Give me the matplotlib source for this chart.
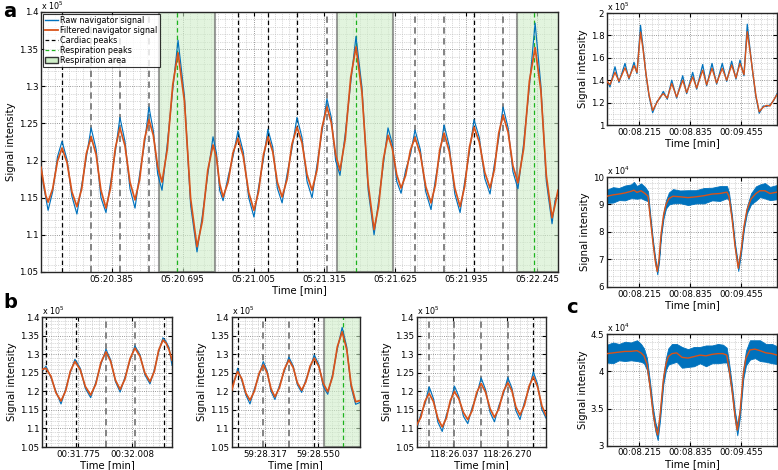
import numpy as np
import matplotlib
matplotlib.use('Agg')
import matplotlib.pyplot as plt
from matplotlib.ticker import AutoMinorLocator
from matplotlib.lines import Line2D
from matplotlib.patches import Patch

plt.rcParams['font.family'] = ['DejaVu Sans']

RAW = '#0072BD'
FILT = '#D95319'
CARD_DARK = '#000000'
CARD_LIGHT = '#7a7a7a'
RESP = '#1db31d'
AREA_FACE = '#cfeec8'
AREA_EDGE = '#5a5a5a'

# ---- panel a (seconds after 05:20.000, signal x 1e5) ----
a_start = 320.0
a_time = [0.076, 0.086, 0.097, 0.107, 0.127, 0.148, 0.168, 0.190, 0.211, 0.233,
          0.254, 0.274, 0.295, 0.317, 0.338, 0.360, 0.380, 0.401, 0.421, 0.443,
          0.465, 0.487, 0.507, 0.528, 0.548, 0.567, 0.586, 0.605, 0.628, 0.652,
          0.675, 0.703, 0.730, 0.758, 0.781, 0.805, 0.828, 0.843, 0.857, 0.872,
          0.894, 0.915, 0.937, 0.960, 0.984, 1.007, 1.027, 1.048, 1.068, 1.089,
          1.109, 1.130, 1.152, 1.173, 1.195, 1.217, 1.239, 1.261, 1.283, 1.304,
          1.326, 1.345, 1.364, 1.383, 1.406, 1.430, 1.453, 1.479, 1.506, 1.532,
          1.552, 1.573, 1.593, 1.612, 1.631, 1.650, 1.670, 1.691, 1.711, 1.734,
          1.758, 1.781, 1.800, 1.819, 1.838, 1.861, 1.885, 1.908, 1.928, 1.949,
          1.969, 1.992, 2.016, 2.039, 2.058, 2.077, 2.096, 2.118, 2.139, 2.161,
          2.186, 2.211, 2.236, 2.261, 2.285, 2.310, 2.323, 2.336]
a_filtered = [1.191, 1.172, 1.153, 1.144, 1.162, 1.199, 1.217, 1.197, 1.158, 1.138,
              1.162, 1.209, 1.232, 1.208, 1.160, 1.136, 1.163, 1.217, 1.244, 1.220,
              1.171, 1.147, 1.174, 1.228, 1.255, 1.234, 1.192, 1.171, 1.215, 1.302,
              1.345, 1.280, 1.149, 1.084, 1.118, 1.187, 1.221, 1.204, 1.169, 1.151,
              1.171, 1.210, 1.230, 1.206, 1.157, 1.133, 1.158, 1.207, 1.232, 1.212,
              1.171, 1.151, 1.175, 1.222, 1.245, 1.224, 1.181, 1.160, 1.188, 1.244,
              1.272, 1.251, 1.208, 1.187, 1.229, 1.312, 1.353, 1.292, 1.169, 1.107,
              1.139, 1.202, 1.234, 1.216, 1.181, 1.163, 1.180, 1.214, 1.231, 1.209,
              1.165, 1.143, 1.167, 1.214, 1.237, 1.212, 1.163, 1.138, 1.165, 1.218,
              1.245, 1.225, 1.184, 1.163, 1.188, 1.237, 1.261, 1.238, 1.193, 1.170,
              1.216, 1.307, 1.352, 1.295, 1.180, 1.123, 1.140, 1.160]
a_raw = [1.196, 1.168, 1.150, 1.133, 1.158, 1.205, 1.226, 1.201, 1.152, 1.128,
         1.167, 1.204, 1.244, 1.215, 1.150, 1.130, 1.170, 1.212, 1.258, 1.226,
         1.162, 1.136, 1.181, 1.222, 1.272, 1.240, 1.182, 1.160, 1.222, 1.296,
         1.362, 1.287, 1.140, 1.077, 1.125, 1.181, 1.232, 1.210, 1.160, 1.146,
         1.178, 1.205, 1.240, 1.212, 1.150, 1.124, 1.164, 1.201, 1.242, 1.218,
         1.163, 1.143, 1.182, 1.216, 1.258, 1.231, 1.172, 1.150, 1.195, 1.238,
         1.283, 1.258, 1.200, 1.180, 1.236, 1.305, 1.367, 1.299, 1.161, 1.100,
         1.146, 1.196, 1.244, 1.222, 1.172, 1.156, 1.187, 1.208, 1.241, 1.215,
         1.158, 1.134, 1.174, 1.208, 1.248, 1.219, 1.155, 1.130, 1.171, 1.212,
         1.255, 1.231, 1.176, 1.155, 1.195, 1.230, 1.272, 1.244, 1.185, 1.162,
         1.223, 1.300, 1.385, 1.302, 1.172, 1.115, 1.146, 1.156]
a_cardiac_dark = [0.168, 0.937, 1.068, 1.195, 1.969]
a_cardiac_light = [0.295, 0.421, 0.548, 1.326, 1.711, 1.838, 2.096]
a_resp_peaks = [0.671, 1.453, 2.231]
a_resp_areas = [(0.590, 0.837), (1.370, 1.615), (2.157, 2.400)]
a_ticks = [0.385, 0.695, 1.005, 1.315, 1.625, 1.935, 2.245]

# ---- panel b, left (seconds after 00:31.618) ----
b1_start = 31.618
b1_time = [0.000, 0.017, 0.039, 0.060, 0.082, 0.102, 0.122, 0.142, 0.165, 0.187,
           0.210, 0.232, 0.254, 0.276, 0.296, 0.317, 0.337, 0.358, 0.380, 0.401,
           0.423, 0.444, 0.466, 0.485, 0.503, 0.522, 0.535, 0.548, 0.561]
b1_filtered = [1.259, 1.262, 1.240, 1.196, 1.174, 1.201, 1.254, 1.280, 1.258, 1.213,
               1.190, 1.219, 1.277, 1.306, 1.281, 1.230, 1.205, 1.233, 1.288, 1.316,
               1.294, 1.249, 1.226, 1.254, 1.310, 1.338, 1.330, 1.312, 1.284]
b1_raw = [1.252, 1.268, 1.236, 1.200, 1.166, 1.206, 1.250, 1.286, 1.262, 1.208,
          1.183, 1.224, 1.272, 1.313, 1.285, 1.226, 1.198, 1.238, 1.284, 1.322,
          1.298, 1.244, 1.220, 1.259, 1.305, 1.344, 1.334, 1.318, 1.270]
b1_cardiac_dark = [0.017, 0.147, 0.526]
b1_cardiac_light = [0.276, 0.401]
b1_ticks = [31.775, 32.008]

# ---- panel b, middle (seconds after 59:28.1715) ----
b2_start = 59 * 60 + 28.1715
b2_time = [0.000, 0.009, 0.017, 0.026, 0.044, 0.062, 0.080, 0.099, 0.119, 0.138,
           0.155, 0.172, 0.189, 0.209, 0.230, 0.250, 0.269, 0.287, 0.306, 0.324,
           0.343, 0.361, 0.381, 0.400, 0.420, 0.441, 0.462, 0.483, 0.503, 0.522,
           0.542, 0.561]
b2_filtered = [1.203, 1.222, 1.240, 1.253, 1.234, 1.195, 1.176, 1.200, 1.247, 1.271,
               1.250, 1.207, 1.185, 1.210, 1.259, 1.284, 1.264, 1.223, 1.203, 1.225,
               1.268, 1.289, 1.267, 1.222, 1.199, 1.239, 1.320, 1.360, 1.313, 1.219,
               1.172, 1.175]
b2_raw = [1.198, 1.228, 1.236, 1.262, 1.230, 1.190, 1.166, 1.206, 1.242, 1.280,
          1.255, 1.200, 1.178, 1.216, 1.254, 1.292, 1.268, 1.218, 1.197, 1.230,
          1.262, 1.298, 1.272, 1.214, 1.192, 1.245, 1.314, 1.372, 1.320, 1.212,
          1.165, 1.170]
b2_cardiac_dark = [0.026, 0.361]
b2_cardiac_light = [0.138, 0.250]
b2_resp_peaks = [0.487]
b2_resp_areas = [(0.405, 0.600)]
b2_ticks = [59 * 60 + 28.317, 59 * 60 + 28.550]

# ---- panel b, right (seconds after 118:25.878) ----
b3_start = 118 * 60 + 25.878
b3_time = [0.000, 0.018, 0.036, 0.054, 0.073, 0.092, 0.111, 0.129, 0.146, 0.164,
           0.183, 0.203, 0.222, 0.241, 0.261, 0.280, 0.299, 0.319, 0.338, 0.357,
           0.377, 0.396, 0.414, 0.431, 0.449, 0.468, 0.488, 0.507, 0.525, 0.544,
           0.562]
b3_filtered = [1.109, 1.130, 1.173, 1.194, 1.172, 1.127, 1.104, 1.128, 1.175, 1.199,
               1.180, 1.143, 1.124, 1.148, 1.197, 1.221, 1.198, 1.153, 1.130, 1.153,
               1.200, 1.223, 1.201, 1.158, 1.136, 1.162, 1.213, 1.239, 1.213, 1.161,
               1.135]
b3_raw = [1.098, 1.138, 1.166, 1.212, 1.180, 1.117, 1.092, 1.136, 1.168, 1.214,
          1.186, 1.133, 1.113, 1.156, 1.190, 1.236, 1.205, 1.143, 1.118, 1.161,
          1.193, 1.237, 1.208, 1.148, 1.124, 1.170, 1.206, 1.252, 1.220, 1.151,
          1.128]
b3_cardiac_dark = [0.507]
b3_cardiac_light = [0.054, 0.164, 0.280, 0.396]
b3_ticks = [118 * 60 + 26.037, 118 * 60 + 26.270]

# ---- right column (seconds after 00:07.827) ----
r_start = 7.827
r_ticks = [8.215, 8.835, 9.455]

# top right, signal x 1e5
rt_time = [0.000, 0.036, 0.097, 0.145, 0.218, 0.266, 0.327, 0.363, 0.406, 0.436,
           0.472, 0.509, 0.553, 0.605, 0.642, 0.682, 0.730, 0.784, 0.844, 0.917,
           0.965, 1.038, 1.086, 1.159, 1.207, 1.272, 1.328, 1.396, 1.450, 1.510,
           1.562, 1.611, 1.659, 1.699, 1.732, 1.768, 1.804, 1.844, 1.893, 1.932,
           1.974, 2.016, 2.059]
rt_filtered = [1.39, 1.36, 1.47, 1.39, 1.51, 1.42, 1.53, 1.47, 1.83, 1.68,
               1.46, 1.27, 1.13, 1.20, 1.25, 1.28, 1.24, 1.37, 1.25, 1.40,
               1.29, 1.43, 1.33, 1.49, 1.36, 1.506, 1.375, 1.506, 1.40, 1.536,
               1.42, 1.55, 1.45, 1.833, 1.66, 1.46, 1.26, 1.119, 1.16, 1.175,
               1.17, 1.22, 1.27]
rt_raw = [1.40, 1.34, 1.52, 1.38, 1.55, 1.41, 1.56, 1.46, 1.89, 1.70,
          1.45, 1.26, 1.11, 1.21, 1.24, 1.30, 1.23, 1.40, 1.24, 1.44,
          1.28, 1.47, 1.32, 1.54, 1.35, 1.55, 1.365, 1.55, 1.39, 1.57,
          1.41, 1.58, 1.44, 1.90, 1.68, 1.45, 1.25, 1.105, 1.17, 1.165,
          1.18, 1.215, 1.28]

# middle right, signal x 1e4, raw shown as its spread around the filtered curve
rm_time = [0.000, 0.073, 0.145, 0.218, 0.291, 0.327, 0.363, 0.412, 0.460, 0.497,
           0.521, 0.557, 0.587, 0.609, 0.630, 0.654, 0.684, 0.714, 0.751, 0.799,
           0.884, 0.981, 1.078, 1.175, 1.272, 1.368, 1.453, 1.477, 1.514, 1.550,
           1.590, 1.623, 1.659, 1.695, 1.744, 1.804, 1.853, 1.913, 1.974, 2.059]
rm_filtered = [9.30, 9.35, 9.38, 9.42, 9.48, 9.52, 9.44, 9.50, 9.40, 9.30,
               8.60, 7.60, 6.90, 6.56, 7.00, 7.90, 8.60, 9.00, 9.22, 9.30,
               9.28, 9.25, 9.28, 9.32, 9.38, 9.40, 9.45, 9.30, 8.50, 7.50,
               6.68, 7.30, 8.20, 8.80, 9.20, 9.40, 9.50, 9.50, 9.40, 9.45]
rm_spread = [0.24, 0.28, 0.22, 0.27, 0.25, 0.30, 0.23, 0.27, 0.24, 0.18,
             0.12, 0.10, 0.10, 0.10, 0.10, 0.10, 0.12, 0.15, 0.22, 0.26,
             0.23, 0.27, 0.24, 0.28, 0.23, 0.27, 0.22, 0.15, 0.10, 0.10,
             0.10, 0.10, 0.10, 0.12, 0.20, 0.26, 0.23, 0.28, 0.24, 0.26]

# panel c, signal x 1e4
c_time = [0.000, 0.073, 0.145, 0.218, 0.291, 0.363, 0.412, 0.448, 0.484, 0.521,
          0.557, 0.587, 0.614, 0.642, 0.682, 0.714, 0.742, 0.787, 0.844, 0.908,
          0.981, 1.054, 1.126, 1.199, 1.272, 1.344, 1.405, 1.450, 1.477, 1.514,
          1.550, 1.578, 1.611, 1.651, 1.683, 1.732, 1.792, 1.853, 1.925, 1.998,
          2.059]
c_filtered = [4.24, 4.25, 4.26, 4.27, 4.27, 4.28, 4.25, 4.21, 4.10, 3.80,
              3.45, 3.25, 3.145, 3.40, 3.885, 4.10, 4.20, 4.24, 4.25, 4.19,
              4.18, 4.20, 4.22, 4.21, 4.23, 4.24, 4.24, 4.22, 4.05, 3.75,
              3.40, 3.21, 3.45, 3.97, 4.18, 4.29, 4.30, 4.28, 4.25, 4.24,
              4.22]
c_spread = [0.12, 0.14, 0.11, 0.13, 0.12, 0.14, 0.12, 0.10, 0.08, 0.06,
            0.06, 0.06, 0.07, 0.06, 0.06, 0.08, 0.11, 0.13, 0.12, 0.14,
            0.12, 0.13, 0.11, 0.14, 0.12, 0.13, 0.12, 0.10, 0.08, 0.06,
            0.06, 0.07, 0.06, 0.07, 0.10, 0.13, 0.12, 0.14, 0.12, 0.13,
            0.12]


def clock(t):
    minutes = int(t // 60)
    return f'{minutes:02d}:{t - 60 * minutes:06.3f}'


def style_axes(ax, xlim, ylim, xticks, yticks, xminor, yminor, exponent):
    ax.set_xlim(xlim)
    ax.set_ylim(ylim)
    ax.set_xticks(xticks, [clock(t) for t in xticks])
    ax.set_yticks(yticks, [f'{v:g}' for v in yticks])
    ax.xaxis.set_minor_locator(AutoMinorLocator(xminor))
    ax.yaxis.set_minor_locator(AutoMinorLocator(yminor))
    ax.set_axisbelow(True)
    ax.grid(which='major', ls=':', color='#7a7a7a', lw=0.6)
    ax.grid(which='minor', ls=':', color='#b4b4b4', lw=0.5)
    ax.tick_params(which='both', direction='in', top=True, right=True,
                   labelsize=6.2, pad=2)
    ax.tick_params(which='major', length=3, width=0.8)
    ax.tick_params(which='minor', length=0)
    for s in ax.spines.values():
        s.set_color('#262626')
        s.set_linewidth(1.0)
    ax.text(0, 1.0, r'x 10$^{%d}$' % exponent, transform=ax.transAxes,
            fontsize=5.8, ha='left', va='bottom')
    ax.set_xlabel('Time [min]', fontsize=7.3, labelpad=1)
    ax.set_ylabel('Signal intensity', fontsize=7.3, labelpad=2)


def draw_navigator(ax, start, time, raw, filtered, dark=(), light=(), peaks=(), areas=()):
    t = start + np.asarray(time)
    for x0, x1 in areas:
        ax.axvspan(start + x0, start + x1, facecolor=AREA_FACE, alpha=0.6,
                   edgecolor=AREA_EDGE, lw=1.5, zorder=1)
    for x in dark:
        ax.axvline(start + x, color=CARD_DARK, ls=(0, (3.5, 2.5)), lw=0.9, zorder=1.5)
    for x in light:
        ax.axvline(start + x, color=CARD_LIGHT, ls=(0, (3.5, 2.5)), lw=1.3, zorder=1.5)
    for x in peaks:
        ax.axvline(start + x, color=RESP, ls=(0, (3.5, 2.5)), lw=0.9, zorder=1.5)
    ax.plot(t, raw, color=RAW, lw=0.85, zorder=2)
    ax.plot(t, filtered, color=FILT, lw=1.25, zorder=3)


def draw_band(ax, start, time, filtered, spread):
    t = start + np.asarray(time)
    f = np.asarray(filtered)
    w = np.asarray(spread)
    ax.fill_between(t, f - w, f + w, color=RAW, lw=0.6, edgecolor=RAW, zorder=2)
    ax.plot(t, f, color=FILT, lw=1.0, zorder=3)


def main():
    fig = plt.figure(figsize=(7.78, 4.70), dpi=100)

    # panel a
    ax = fig.add_axes([0.0527, 0.4213, 0.6645, 0.5532])
    draw_navigator(ax, a_start, a_time, a_raw, a_filtered, a_cardiac_dark,
                   a_cardiac_light, a_resp_peaks, a_resp_areas)
    style_axes(ax, (a_start + 0.076, a_start + 2.336), (1.05, 1.4),
               [a_start + t for t in a_ticks], np.arange(1.05, 1.401, 0.05), 10, 5, 5)
    handles = [Line2D([], [], color=RAW, lw=1),
               Line2D([], [], color=FILT, lw=1.3),
               Line2D([], [], color=CARD_DARK, ls=(0, (3, 2)), lw=0.9),
               Line2D([], [], color=RESP, ls=(0, (3, 2)), lw=0.9),
               Patch(facecolor=AREA_FACE, edgecolor='#333333', lw=1)]
    labels = ['Raw navigator signal', 'Filtered navigator signal', 'Cardiac peaks',
              'Respiration peaks', 'Respiration area']
    leg = ax.legend(handles, labels, loc='upper left', fontsize=5.8, frameon=True,
                    fancybox=False, borderpad=0.25, labelspacing=0.12,
                    handlelength=1.6, handletextpad=0.3, borderaxespad=0.25)
    leg.get_frame().set_edgecolor('black')
    leg.get_frame().set_linewidth(0.8)

    # panel b
    b_specs = [
        ([0.0540, 0.0489, 0.1671, 0.2766], b1_start, b1_time, b1_raw, b1_filtered,
         b1_cardiac_dark, b1_cardiac_light, (), (), b1_ticks, 0.561),
        ([0.2978, 0.0489, 0.1649, 0.2766], b2_start, b2_time, b2_raw, b2_filtered,
         b2_cardiac_dark, b2_cardiac_light, b2_resp_peaks, b2_resp_areas, b2_ticks, 0.561),
        ([0.5356, 0.0489, 0.1662, 0.2766], b3_start, b3_time, b3_raw, b3_filtered,
         b3_cardiac_dark, b3_cardiac_light, (), (), b3_ticks, 0.562),
    ]
    for rect, start, time, raw, filt, dark, light, peaks, areas, ticks, span in b_specs:
        ax = fig.add_axes(rect)
        draw_navigator(ax, start, time, raw, filt, dark, light, peaks, areas)
        style_axes(ax, (start, start + span), (1.05, 1.4), ticks,
                   np.arange(1.05, 1.401, 0.05), 8, 5, 5)

    # right column
    ax = fig.add_axes([0.7802, 0.7340, 0.2185, 0.2383])
    t = r_start + np.asarray(rt_time)
    ax.plot(t, rt_raw, color=RAW, lw=0.9, zorder=2)
    ax.plot(t, rt_filtered, color=FILT, lw=1.0, zorder=3)
    style_axes(ax, (r_start, r_start + 2.059), (1, 2), r_ticks,
               [1, 1.2, 1.4, 1.6, 1.8, 2], 8, 4, 5)

    ax = fig.add_axes([0.7802, 0.3894, 0.2185, 0.2340])
    draw_band(ax, r_start, rm_time, rm_filtered, rm_spread)
    style_axes(ax, (r_start, r_start + 2.059), (6, 10), r_ticks,
               [6, 7, 8, 9, 10], 8, 5, 4)

    ax = fig.add_axes([0.7802, 0.0517, 0.2185, 0.2370])
    draw_band(ax, r_start, c_time, c_filtered, c_spread)
    style_axes(ax, (r_start, r_start + 2.059), (3, 4.5), r_ticks,
               [3, 3.5, 4, 4.5], 8, 5, 4)

    fig.text(0.004, 0.975, 'a', fontsize=14, fontweight='bold', va='center')
    fig.text(0.004, 0.357, 'b', fontsize=14, fontweight='bold', va='center')
    fig.text(0.728, 0.345, 'c', fontsize=14, fontweight='bold', va='center')

    fig.savefig('out.png', dpi=100)
    plt.close(fig)


if __name__ == '__main__':
    main()
